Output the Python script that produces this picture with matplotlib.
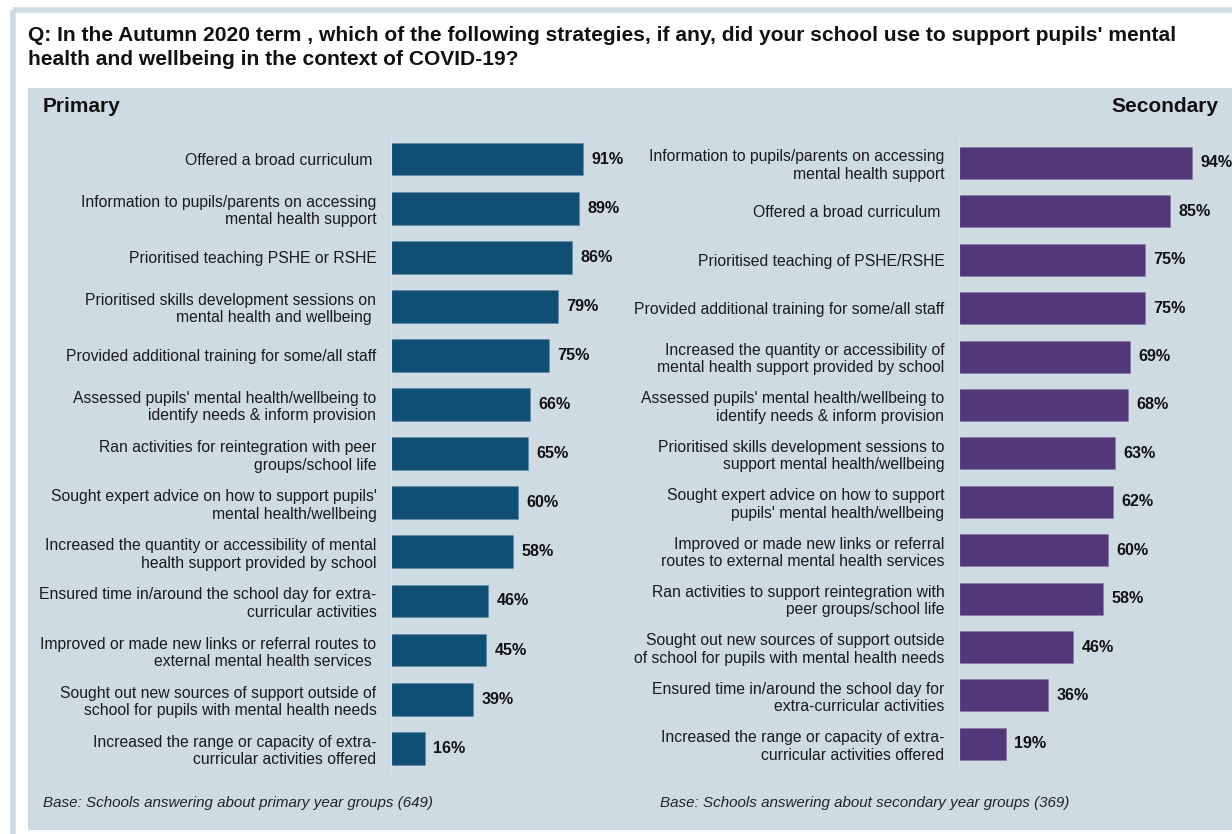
import matplotlib.pyplot as plt
from matplotlib.patches import Rectangle

plt.rcParams["font.family"] = ["Liberation Sans", "DejaVu Sans"]

W, H = 1232, 834

title = ("Q: In the Autumn 2020 term , which of the following strategies, if any, did your school use to support pupils' mental\n"
         "health and wellbeing in the context of COVID-19?")

primary_labels = [
    "Offered a broad curriculum ",
    "Information to pupils/parents on accessing\nmental health support",
    "Prioritised teaching PSHE or RSHE",
    "Prioritised skills development sessions on\nmental health and wellbeing ",
    "Provided additional training for some/all staff",
    "Assessed pupils' mental health/wellbeing to\nidentify needs & inform provision",
    "Ran activities for reintegration with peer\ngroups/school life",
    "Sought expert advice on how to support pupils'\nmental health/wellbeing",
    "Increased the quantity or accessibility of mental\nhealth support provided by school",
    "Ensured time in/around the school day for extra-\ncurricular activities",
    "Improved or made new links or referral routes to\nexternal mental health services ",
    "Sought out new sources of support outside of\nschool for pupils with mental health needs",
    "Increased the range or capacity of extra-\ncurricular activities offered",
]
primary_values = [91, 89, 86, 79, 75, 66, 65, 60, 58, 46, 45, 39, 16]

secondary_labels = [
    "Information to pupils/parents on accessing\nmental health support",
    "Offered a broad curriculum ",
    "Prioritised teaching of PSHE/RSHE",
    "Provided additional training for some/all staff",
    "Increased the quantity or accessibility of\nmental health support provided by school",
    "Assessed pupils' mental health/wellbeing to\nidentify needs & inform provision",
    "Prioritised skills development sessions to\nsupport mental health/wellbeing",
    "Sought expert advice on how to support\npupils' mental health/wellbeing",
    "Improved or made new links or referral\nroutes to external mental health services",
    "Ran activities to support reintegration with\npeer groups/school life",
    "Sought out new sources of support outside\nof school for pupils with mental health needs",
    "Ensured time in/around the school day for\nextra-curricular activities",
    "Increased the range or capacity of extra-\ncurricular activities offered",
]
secondary_values = [94, 85, 75, 75, 69, 68, 63, 62, 60, 58, 46, 36, 19]

PANEL = "#cfdbe3"
PRIMARY_COLOR = "#114e73"
SECONDARY_COLOR = "#533879"


def px_rect(left, top, width, height):
    # pixel box (from top-left) -> figure fraction
    return [left / W, 1 - (top + height) / H, width / W, height / H]


def draw_panel(fig, rect, labels, values, color, edge, bar_h):
    ax = fig.add_axes(px_rect(*rect))
    ax.set_zorder(3)
    ax.set_facecolor("none")
    y = list(range(len(values)))
    bars = ax.barh(y, values, height=bar_h, color=color, edgecolor=edge, linewidth=0.4)
    ax.set_xlim(0, 100)
    ax.set_ylim(len(values) - 0.5, -0.5)
    ax.set_yticks(y)
    ax.set_yticklabels(labels, fontsize=11.3, color="#1a1a1a", linespacing=1.2)
    ax.tick_params(axis="y", length=0, pad=10.5)
    ax.set_xticks([])
    for side in ["top", "right", "bottom"]:
        ax.spines[side].set_visible(False)
    ax.spines["left"].set_color("#dbe4ea")
    ax.spines["left"].set_linewidth(0.8)
    for bar, v in zip(bars, values):
        ax.annotate(f"{v}%", (bar.get_width(), bar.get_y() + bar.get_height() / 2),
                    xytext=(6, 0), textcoords="offset points", va="center", ha="left",
                    fontsize=11.6, fontweight="bold", color="#111111")
    return ax


fig = plt.figure(figsize=(W / 100, H / 100), dpi=100)
fig.patch.set_facecolor("white")

# outer frame and shaded panel, drawn on a background axes
bg = fig.add_axes([0, 0, 1, 1])
bg.set_zorder(0)
bg.set_xlim(0, W)
bg.set_ylim(H, 0)
bg.axis("off")
bg.add_patch(Rectangle((13, 10), W, H, facecolor="none", edgecolor=PANEL, linewidth=4))
bg.add_patch(Rectangle((28, 88), W, 742, facecolor=PANEL, edgecolor="none"))

bg.text(28, 26, title, ha="left", va="top", fontsize=15.1, fontweight="bold",
        color="#111111", linespacing=1.3)
bg.text(43, 106, "Primary", ha="left", va="center", fontsize=15, fontweight="bold", color="#111111")
bg.text(1218, 106, "Secondary", ha="right", va="center", fontsize=15, fontweight="bold", color="#111111")
bg.text(43, 803, "Base: Schools answering about primary year groups (649)", ha="left", va="center",
        fontsize=10.9, style="italic", color="#222222")
bg.text(660, 803, "Base: Schools answering about secondary year groups (369)", ha="left", va="center",
        fontsize=10.9, style="italic", color="#222222")

draw_panel(fig, (391, 134.5, 211, 638.3), primary_labels, primary_values, PRIMARY_COLOR, "#5d86a0", 0.67)
draw_panel(fig, (959, 138.8, 248, 629.2), secondary_labels, secondary_values, SECONDARY_COLOR, "#8572a3", 0.66)

fig.savefig("out.png", dpi=100)
